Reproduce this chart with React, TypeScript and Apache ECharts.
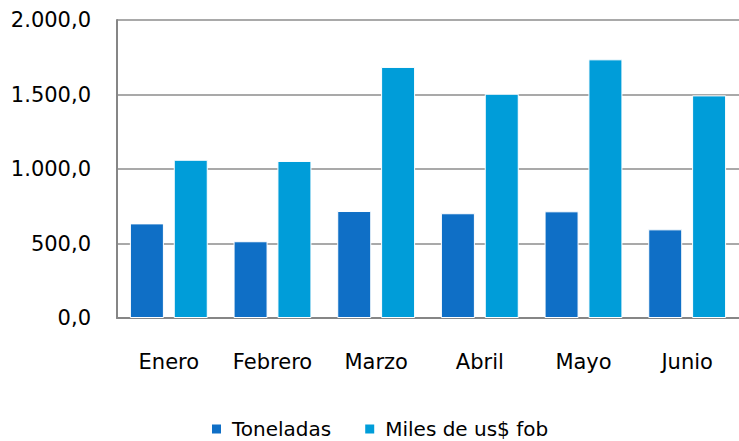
import React, { useEffect, useRef } from "react";
import * as echarts from "echarts";

const categories = ["Enero", "Febrero", "Marzo", "Abril", "Mayo", "Junio"];
const toneladas = [635, 515, 718, 703, 716, 595];
const milesFob = [1062, 1054, 1685, 1505, 1736, 1494];
const seriesNames = ["Toneladas", "Miles de us$ fob"];

const fmt = (v: number) => {
  const [i, d] = v.toFixed(1).split(".");
  return i.replace(/\B(?=(\d{3})+(?!\d))/g, ".") + "," + d;
};

export default function App() {
  const ref = useRef<HTMLDivElement>(null);
  useEffect(() => {
    if (!ref.current) return;
    const chart = echarts.init(ref.current, undefined, { renderer: "svg" });
    const font = "DejaVu Sans";
    chart.setOption({
      animation: false,
      backgroundColor: "#fff",
      grid: { left: 117, top: 20, width: 630, height: 298 },
      legend: {
        left: 205,
        top: 413,
        itemWidth: 11,
        itemHeight: 11,
        itemGap: 32,
        icon: "rect",
        textStyle: {
          fontFamily: font,
          fontSize: 20,
          lineHeight: 22,
          color: "#000",
          padding: [0, 0, 0, 5],
        },
        data: seriesNames,
      },
      xAxis: {
        type: "category",
        data: categories,
        axisLine: { lineStyle: { color: "#868686", width: 2 } },
        axisTick: { show: false },
        axisLabel: { fontFamily: font, fontSize: 21, color: "#000", margin: 33 },
      },
      yAxis: {
        type: "value",
        min: 0,
        max: 2000,
        interval: 500,
        axisLine: { show: true, lineStyle: { color: "#868686", width: 2 } },
        axisTick: { show: false },
        splitLine: { lineStyle: { color: "#8c8c8c", width: 1.5 } },
        axisLabel: {
          fontFamily: font,
          fontSize: 21,
          color: "#000",
          margin: 26,
          formatter: (v: number) => fmt(v),
        },
      },
      series: [
        {
          name: seriesNames[0],
          type: "bar",
          data: toneladas,
          barWidth: 34,
          barGap: "29%",
          itemStyle: { color: "#0F6FC6", borderColor: "#fff", borderWidth: 1 },
        },
        {
          name: seriesNames[1],
          type: "bar",
          data: milesFob,
          barWidth: 34,
          itemStyle: { color: "#009DD9", borderColor: "#fff", borderWidth: 1 },
        },
      ],
    });
    return () => chart.dispose();
  }, []);
  return (
    <div
      ref={ref}
      style={{ position: "fixed", left: 0, top: 0, width: 739, height: 441 }}
    />
  );
}
